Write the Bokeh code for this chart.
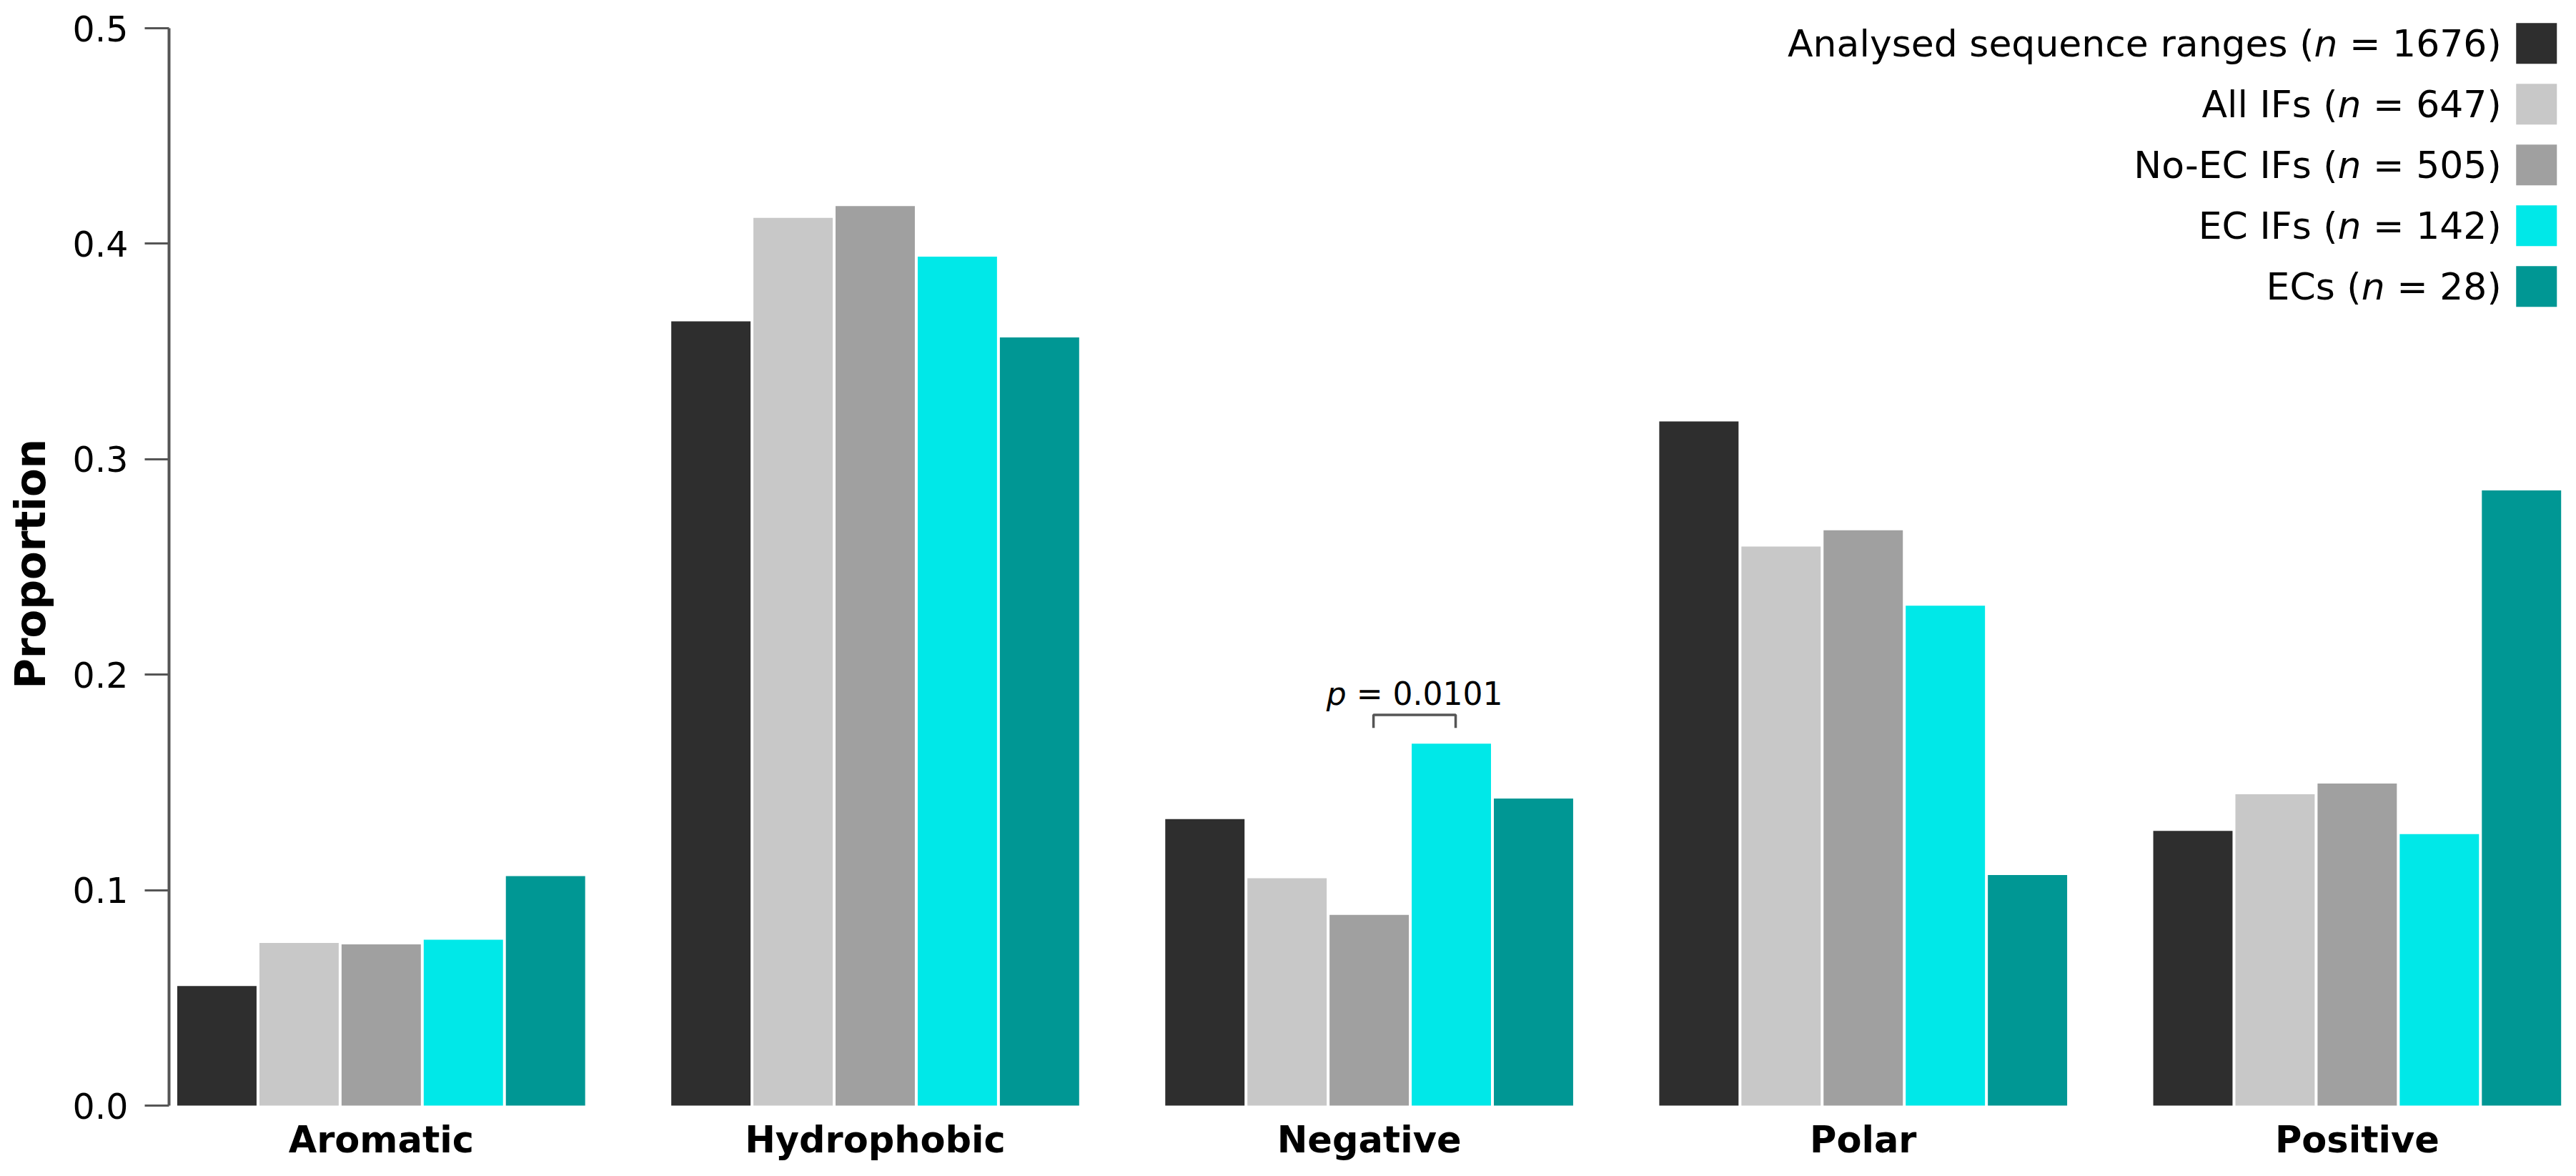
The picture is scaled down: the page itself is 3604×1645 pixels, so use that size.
from bokeh.plotting import figure
from bokeh.models import Range1d, FixedTicker, ColumnDataSource, PrintfTickFormatter
from bokeh.core.properties import value
from bokeh.embed import file_html
from bokeh.resources import INLINE

# ---------------- data ----------------
categories = ["Aromatic", "Hydrophobic", "Negative", "Polar", "Positive"]
series_names = ["Analysed sequence ranges", "All IFs", "No-EC IFs", "EC IFs", "ECs"]
series_n = [1676, 647, 505, 142, 28]
analysed = [0.0555, 0.364, 0.133, 0.3175, 0.1275]
all_ifs = [0.0755, 0.412, 0.1055, 0.2595, 0.1445]
no_ec_ifs = [0.0748, 0.4175, 0.0885, 0.267, 0.1495]
ec_ifs = [0.0770, 0.394, 0.1680, 0.232, 0.1260]
ecs = [0.1065, 0.3565, 0.1425, 0.107, 0.2855]
y_ticks = [0.0, 0.1, 0.2, 0.3, 0.4, 0.5]
p_value_text = "0.0101"
p_pair = (2, 3)          # No-EC IFs vs EC IFs
p_category = "Negative"

series_values = [analysed, all_ifs, no_ec_ifs, ec_ifs, ecs]
colors = ["#2e2e2e", "#c8c8c8", "#a0a0a0", "#00e8e8", "#009794"]

# ---------------- layout ----------------
W, H = 3588, 1629
BL, BR, BT, BB = 236, 0, 8, 0
ZERO_PX = 1546                      # canvas row of the zero line
X0, X1 = -0.4295, 4.4205
Y1 = 0.5103
UY = (ZERO_PX - BT) / Y1
UX = (W - BL - BR) / (X1 - X0)
Y0 = -(H - BB - ZERO_PX) / UY       # room below zero for category names
FONT = "DejaVu Sans"
NB = "\u00a0"
SLOT = 0.1663
BAR_W = 0.1605

EM = {" ": 0.318, NB: 0.318, "=": 0.838, "(": 0.390, ")": 0.390, "n": 0.634,
      "p": 0.635, ".": 0.318}
for d in "0123456789":
    EM[d] = 0.636


def text_width(s, size):
    return sum(EM[c] for c in s) * size


p = figure(width=W, height=H, x_range=Range1d(X0, X1), y_range=Range1d(Y0, Y1),
           output_backend="svg", toolbar_location=None,
           min_border_left=BL, min_border_right=BR, min_border_top=BT,
           min_border_bottom=BB)
p.background_fill_color = "white"
p.border_fill_color = "white"
p.outline_line_color = None
p.xgrid.visible = False
p.ygrid.visible = False

# bars
for k, (name, vals) in enumerate(zip(series_names, series_values)):
    xs = [i + (k - 2) * SLOT for i in range(len(categories))]
    src = ColumnDataSource(dict(x=xs, top=vals))
    p.vbar(x="x", top="top", bottom=0, width=BAR_W, source=src,
           fill_color=colors[k], line_color=None)

# y axis
ya = p.yaxis[0]
ya.ticker = FixedTicker(ticks=y_ticks)
ya.formatter = PrintfTickFormatter(format="%.1f")
ya.bounds = (0, 0.5)
ya.axis_line_color = "#555555"
ya.axis_line_width = 4
ya.major_tick_line_color = "#555555"
ya.major_tick_line_width = 3
ya.major_tick_out = 34
ya.major_tick_in = 0
ya.minor_tick_line_color = None
ya.major_label_standoff = 23
ya.major_label_text_font = FONT
ya.major_label_text_font_size = "49px"
ya.major_label_text_color = "black"
# leading no-break spaces keep the label centred on 0.0-0.5 (the frame
# also holds the category names below zero)
ya.axis_label = NB * 3 + "Proportion"
ya.axis_label_text_font = FONT
ya.axis_label_text_font_style = "bold"
ya.axis_label_text_font_size = "58px"
ya.axis_label_text_color = "black"
ya.axis_label_standoff = 22

# category names, placed through the x scale below the zero line
p.xaxis.visible = False
cat_src = ColumnDataSource(dict(x=list(range(len(categories))),
                                y=[-48 / UY] * len(categories),
                                text=categories))
p.text(x="x", y="y", text="text", source=cat_src, text_align="center",
       text_baseline="middle", text_font=value(FONT), text_font_style="bold",
       text_font_size="51px", text_color="black")

# significance bracket
ci = categories.index(p_category)
nudge = 6 / UX
bx1 = ci + (p_pair[0] - 2) * SLOT + nudge
bx2 = ci + (p_pair[1] - 2) * SLOT + nudge
b_top = 0.1813
b_leg = 0.1753
p.line(x=[bx1, bx1, bx2, bx2], y=[b_leg, b_top, b_top, b_leg],
       line_color="#555555", line_width=3.5)
PS = 44
tail = NB + "=" + NB + p_value_text
total = text_width("p", PS) + text_width(tail, PS)
left = -total / 2
bxc = (bx1 + bx2) / 2
p_y = 0.1912
p.text(x=[bxc], y=[p_y], text=["p"], x_offset=left, text_align="left",
       text_baseline="middle", text_font=value(FONT), text_font_style="italic",
       text_font_size=f"{PS}px", text_color="black")
p.text(x=[bxc], y=[p_y], text=[tail], x_offset=left + text_width("p", PS),
       text_align="left", text_baseline="middle", text_font=value(FONT),
       text_font_size=f"{PS}px", text_color="black")

# legend (labels right-aligned, swatch on the right)
LS = 52
SW = 57
row_y = [0.4930 - 0.02822 * k for k in range(len(series_names))]
sq_x = 4.363
txt_x = 4.292
tails = [f"{NB}={NB}{n})" for n in series_n]
heads = [f"{nm} (" for nm in series_names]
tail_w = [text_width(t, LS) for t in tails]
n_w = text_width("n", LS)
p.rect(x=[sq_x] * len(row_y), y=row_y, width=SW, height=SW,
       width_units="screen", height_units="screen",
       fill_color=colors, line_color=None)
p.text(x=[txt_x] * len(row_y), y=row_y, text=tails, text_align="right",
       text_baseline="middle", text_font=value(FONT), text_font_size=f"{LS}px",
       text_color="black")
p.text(x=[txt_x] * len(row_y), y=row_y, text=["n"] * len(row_y),
       x_offset=[-w for w in tail_w], text_align="right",
       text_baseline="middle", text_font=value(FONT), text_font_style="italic",
       text_font_size=f"{LS}px", text_color="black")
p.text(x=[txt_x] * len(row_y), y=row_y, text=heads,
       x_offset=[-(w + n_w) for w in tail_w], text_align="right",
       text_baseline="middle", text_font=value(FONT), text_font_size=f"{LS}px",
       text_color="black")

open("out.html", "w").write(file_html(p, INLINE))
